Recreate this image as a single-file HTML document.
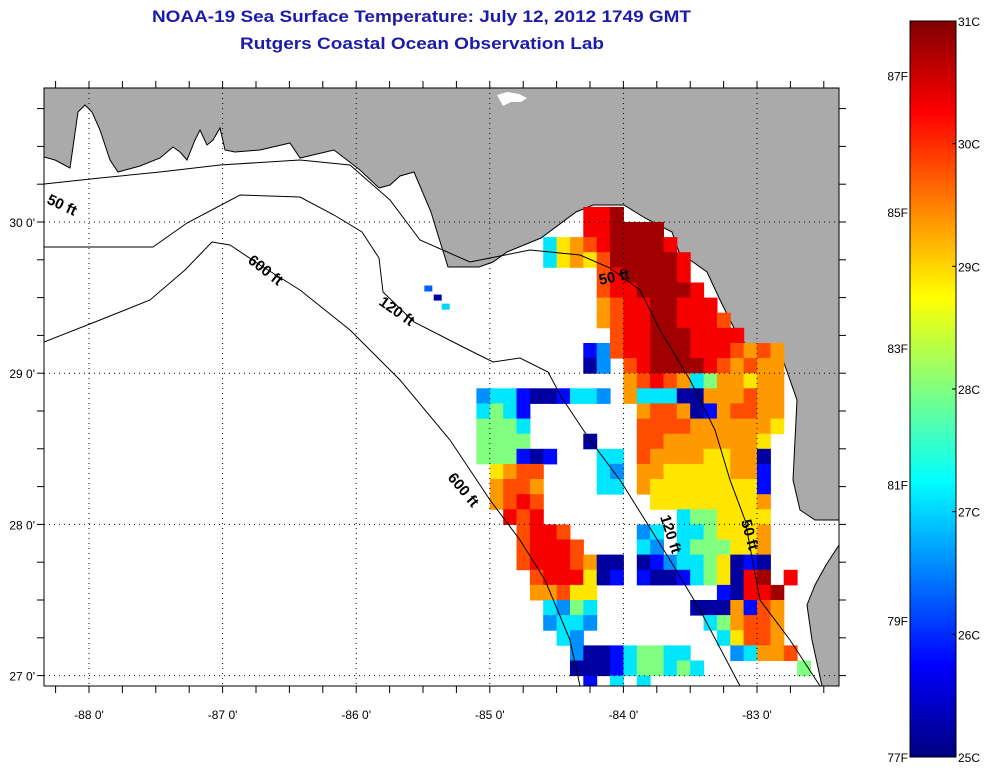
<!DOCTYPE html>
<html><head><meta charset="utf-8"><style>
html,body{margin:0;padding:0;background:#fff;}
svg{display:block;font-family:"Liberation Sans",Arial,sans-serif;}
</style></head><body>
<svg id="chart" width="992" height="770" viewBox="0 0 992 770">
<defs><clipPath id="frameClip"><rect x="44" y="88" width="795" height="598"/></clipPath>
<linearGradient id="jetGrad" x1="0" y1="1" x2="0" y2="0"></linearGradient></defs>
<text x="152" y="22" textLength="539" lengthAdjust="spacingAndGlyphs" font-size="17" font-weight="bold" fill="#1c1ca8">NOAA-19 Sea Surface Temperature:  July 12, 2012 1749 GMT</text>
<text x="240" y="49" textLength="364" lengthAdjust="spacingAndGlyphs" font-size="17" font-weight="bold" fill="#1c1ca8">Rutgers Coastal Ocean Observation Lab</text>
<rect x="44" y="88" width="795" height="598" fill="#fff"/>
<g clip-path="url(#frameClip)">
<polygon id="land" fill="#aaaaaa" stroke="#000" stroke-width="1" points="44,88 839,88 839,520 815,520 800,510 793,480 795,440 797,400 790,380 783,360 770,350 748,348 734,328 721,302 707,272 679,252 672,232 645,218 624,205 593,205 576,212 541,238 507,252 493,262 479,267 448,267 438,235 431,212 414,172 400,176 390,185 379,188 360,170 334,150 300,158 290,143 260,150 235,152 225,150 220,128 213,140 207,145 200,130 195,140 187,160 180,152 173,147 160,158 140,166 118,172 110,160 100,130 92,112 85,105 78,112 74,140 70,168 55,160 44,157"/>
<polygon fill="#aaaaaa" stroke="#000" stroke-width="1" points="839,545 826,565 815,585 807,605 812,640 822,686 839,686"/>
<path d="M497,95 l10,-3 l12,2 l8,4 l-6,4 l-10,0 l-8,4 z" fill="#fff"/>
<g id="sst"></g>
<g fill="none" stroke="#000" stroke-width="1">
<polyline points="44,342 100,320 150,300 185,270 212,242 230,245 260,265 300,290 350,330 400,380 450,440 490,500 520,540 545,580 570,640 580,686"/>
<polyline points="44,247 100,247 153,247 187,223 240,195 300,197 334,215 362,232 379,258 383,292 414,322 465,348 493,362 520,358 548,372 562,398 590,440 620,480 645,520 670,560 700,610 740,686"/>
<polyline points="44,184 100,178 160,172 220,165 300,160 350,165 390,200 420,240 470,262 530,250 580,255 610,268 640,290 660,330 690,380 715,430 730,480 745,520 760,600 790,640 820,686"/>
</g>
<g font-size="15" font-weight="bold" fill="#000">
<text transform="translate(46,203) rotate(25)">50 ft</text>
<text transform="translate(247,262) rotate(38)">600 ft</text>
<text transform="translate(378,304) rotate(35)">120 ft</text>
<text transform="translate(447,478) rotate(50)">600 ft</text>
<text transform="translate(600,285) rotate(-12)">50 ft</text>
<text transform="translate(660,517) rotate(72)">120 ft</text>
<text transform="translate(741,521) rotate(75)">50 ft</text>
</g>
<g id="grid" stroke="#000" stroke-width="1" stroke-dasharray="1,4"></g>
</g>
<rect x="44" y="88" width="795" height="598" fill="none" stroke="#000" stroke-width="1"/>
<g id="ticks" stroke="#000" stroke-width="1"></g>
<g id="labels" font-size="12" fill="#000"></g>
<rect x="910" y="21" width="46" height="736" fill="url(#jetGrad)" stroke="#000" stroke-width="1"/>
<g id="cbLabels" font-size="12" fill="#000"></g>
</svg>
<script>
const sstRows = [
".........889...............",
".........889999............",
"......3567899998...........",
"......35657999998..........",
"..........7899998..........",
"..........78899998.........",
"..........678899888........",
"..........6788998887.......",
"...........7889998888......",
".........127889998887676...",
".........02.789999876766...",
"............678763466566...",
".2331001332.633300666766...",
".3431........67760167766...",
".4443........77776666665...",
".4444....0...7766666665....",
".444101...33.7666655660....",
"..5677....32.6655555661....",
"..6776....33.6555555551....",
"..6787........555555556....",
"...878..........3445555....",
"....7887.....23.3345556....",
"....78887....32.3444556....",
"....78887600.0123345010....",
".....788850 1.1001345089 8.".replace(' ','').slice(0,27),
".....66755.........10889...",
"......3243.......000617 6..".replace(' ','').slice(0,27),
"......2332........346776...",
".......32..........35776...",
"........20013443 3...23667.".replace(' ','').slice(0,27),
"........0001344343.......4.",
".........1.3.3............."
];
const codeTemps = [25.2, 25.8, 26.6, 27.1, 28.0, 28.9, 29.35, 29.8, 30.3, 30.8];
const gridLon0 = -85.2, gridLat0 = 30.1, cellDeg = 0.1;
const extraLon = [-85.49, -85.42, -85.36];
const extraLat = [29.58, 29.52, 29.46];
const extraTemp = [26.3, 25.2, 27.0];
const lonTicks = [-88, -87, -86, -85, -84, -83];
const latTicks = [30, 29, 28, 27];
const cTicks = [31, 30, 29, 28, 27, 26, 25];
const fTicks = [87, 85, 83, 81, 79, 77];

const NS = "http://www.w3.org/2000/svg";
function xOf(lon){ return 89 + (lon + 88) * 133.6; }
function yOf(lat){ return 222 + (30 - lat) * 151.2; }
function cbY(tc){ return 757 - (tc - 25) / 6 * 736; }
function clamp(v){ return Math.max(0, Math.min(1, v)); }
function jet(t){
  const f = clamp((t - 25) / 6);
  const r = clamp(1.5 - Math.abs(4*f - 3)), g = clamp(1.5 - Math.abs(4*f - 2)), b = clamp(1.5 - Math.abs(4*f - 1));
  return "rgb(" + Math.round(r*255) + "," + Math.round(g*255) + "," + Math.round(b*255) + ")";
}
function mk(tag, attrs, parent){ const e = document.createElementNS(NS, tag); for (const k in attrs) e.setAttribute(k, attrs[k]); parent.appendChild(e); return e; }

const sst = document.getElementById("sst");
sstRows.forEach(function(row, k){
  for (let j = 0; j < row.length; j++){
    const ch = row[j];
    if (ch < '0' || ch > '9') continue;
    const t = codeTemps[+ch];
    const lon = gridLon0 + j * cellDeg, lat = gridLat0 - k * cellDeg;
    const x = xOf(lon), y = yOf(lat);
    const r = mk("rect", {x: x.toFixed(1), y: y.toFixed(1), width: (xOf(lon + cellDeg) - x + 0.5).toFixed(1), height: (yOf(lat - cellDeg) - y + 0.5).toFixed(1), fill: jet(t)}, sst);
    
    
  }
});
extraLon.forEach(function(lon, i){
  const r = mk("rect", {x: xOf(lon), y: yOf(extraLat[i]), width: 8, height: 6, fill: jet(extraTemp[i])}, sst);
  
  
});

const grid = document.getElementById("grid");
lonTicks.forEach(function(lon){
  const l = mk("line", {x1: xOf(lon), x2: xOf(lon), y1: 88, y2: 686}, grid);
  
  
});
latTicks.forEach(function(lat){
  const l = mk("line", {x1: 44, x2: 839, y1: yOf(lat), y2: yOf(lat)}, grid);
  
  
});

const ticks = document.getElementById("ticks");
for (let lon = -88.25; lon <= -82.5; lon += 0.25){
  const x = xOf(lon);
  if (x < 44 || x > 839) continue;
  const t1 = mk("line", {x1: x, x2: x, y1: 88, y2: 81}, ticks);
  
  
  const t2 = mk("line", {x1: x, x2: x, y1: 686, y2: 693}, ticks);
  
  
}
for (let lat = 26.75; lat <= 30.75; lat += 0.25){
  const y = yOf(lat);
  if (y < 88 || y > 686) continue;
  const t1 = mk("line", {x1: 44, x2: 37, y1: y, y2: y}, ticks);
  
  
  const t2 = mk("line", {x1: 839, x2: 846, y1: y, y2: y}, ticks);
  
  
}
const labels = document.getElementById("labels");
lonTicks.forEach(function(lon){
  const t = mk("text", {x: xOf(lon), y: 719, "text-anchor": "middle"}, labels);
  t.textContent = lon + " 0'";
  
  
});
latTicks.forEach(function(lat){
  const t = mk("text", {x: 35, y: yOf(lat) + 5, "text-anchor": "end"}, labels);
  t.textContent = lat + " 0'";
  
  
});

const grad = document.getElementById("jetGrad");
for (let i = 0; i <= 48; i++){
  const t = 25 + i * 6 / 48;
  mk("stop", {offset: (i/48*100).toFixed(2) + "%", "stop-color": jet(t)}, grad);
}
const cb = document.getElementById("cbLabels");
cTicks.forEach(function(c){
  const y = cbY(c);
  const t = mk("text", {x: 958, y: y + 5}, cb);
  t.textContent = c + "C";
  
  
  const l = mk("line", {x1: 952, x2: 956, y1: y, y2: y, stroke: "#000"}, cb);
  
  
});
fTicks.forEach(function(f){
  const c = (f - 32) * 5 / 9;
  const y = cbY(c);
  const t = mk("text", {x: 908, y: y + 5, "text-anchor": "end"}, cb);
  t.textContent = f + "F";
  
  
});
</script>
</body></html>
